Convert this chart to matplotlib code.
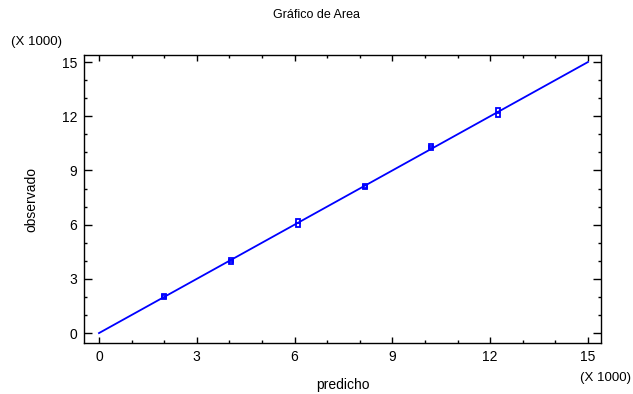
import matplotlib
matplotlib.use("Agg")
import matplotlib.pyplot as plt
from matplotlib.ticker import MultipleLocator

plt.rcParams['font.family'] = ['Liberation Sans', 'DejaVu Sans']

# predicted vs observed (X 1000)
predicho = [2.00, 2.00, 4.05, 4.05, 6.10, 6.10, 8.15, 8.15, 10.20, 10.20, 12.25, 12.25]
observado = [2.00, 2.07, 3.93, 4.05, 6.00, 6.20, 8.07, 8.13, 10.25, 10.33, 12.05, 12.35]
linea = [0, 15]
ticks = [0, 3, 6, 9, 12, 15]

fig = plt.figure(figsize=(6.33, 3.94), dpi=100)
ax = fig.add_axes([0.1327, 0.1294, 0.8167, 0.7310])

ax.plot(linea, linea, color='#0000ff', lw=1.3)
ax.plot(predicho, observado, 's', ms=3.3, mfc='none', mec='#0000ff', mew=1.3)

ax.set_xlim(-0.46, 15.4)
ax.set_ylim(-0.55, 15.39)
ax.set_xticks(ticks)
ax.set_yticks(ticks)
ax.xaxis.set_minor_locator(MultipleLocator(1))
ax.yaxis.set_minor_locator(MultipleLocator(1))
ax.tick_params(which='both', direction='in', top=True, right=True,
               labelsize=10, width=1, colors='black', pad=5)
ax.tick_params(axis='y', which='major', length=5.5)
ax.tick_params(axis='x', which='major', length=4.5)
ax.tick_params(which='minor', length=2.5)
for s in ax.spines.values():
    s.set_linewidth(1)

ax.set_xlabel('predicho', fontsize=10, labelpad=10)
ax.set_ylabel('observado', fontsize=10, labelpad=17)
fig.text(0.5, 0.962, 'Gráfico de Area', ha='center', va='center', fontsize=9)
fig.text(0.018, 0.893, '(X 1000)', ha='left', va='center', fontsize=9.5)
fig.text(0.997, 0.040, '(X 1000)', ha='right', va='center', fontsize=9.5)

fig.savefig('out.png', dpi=100)
